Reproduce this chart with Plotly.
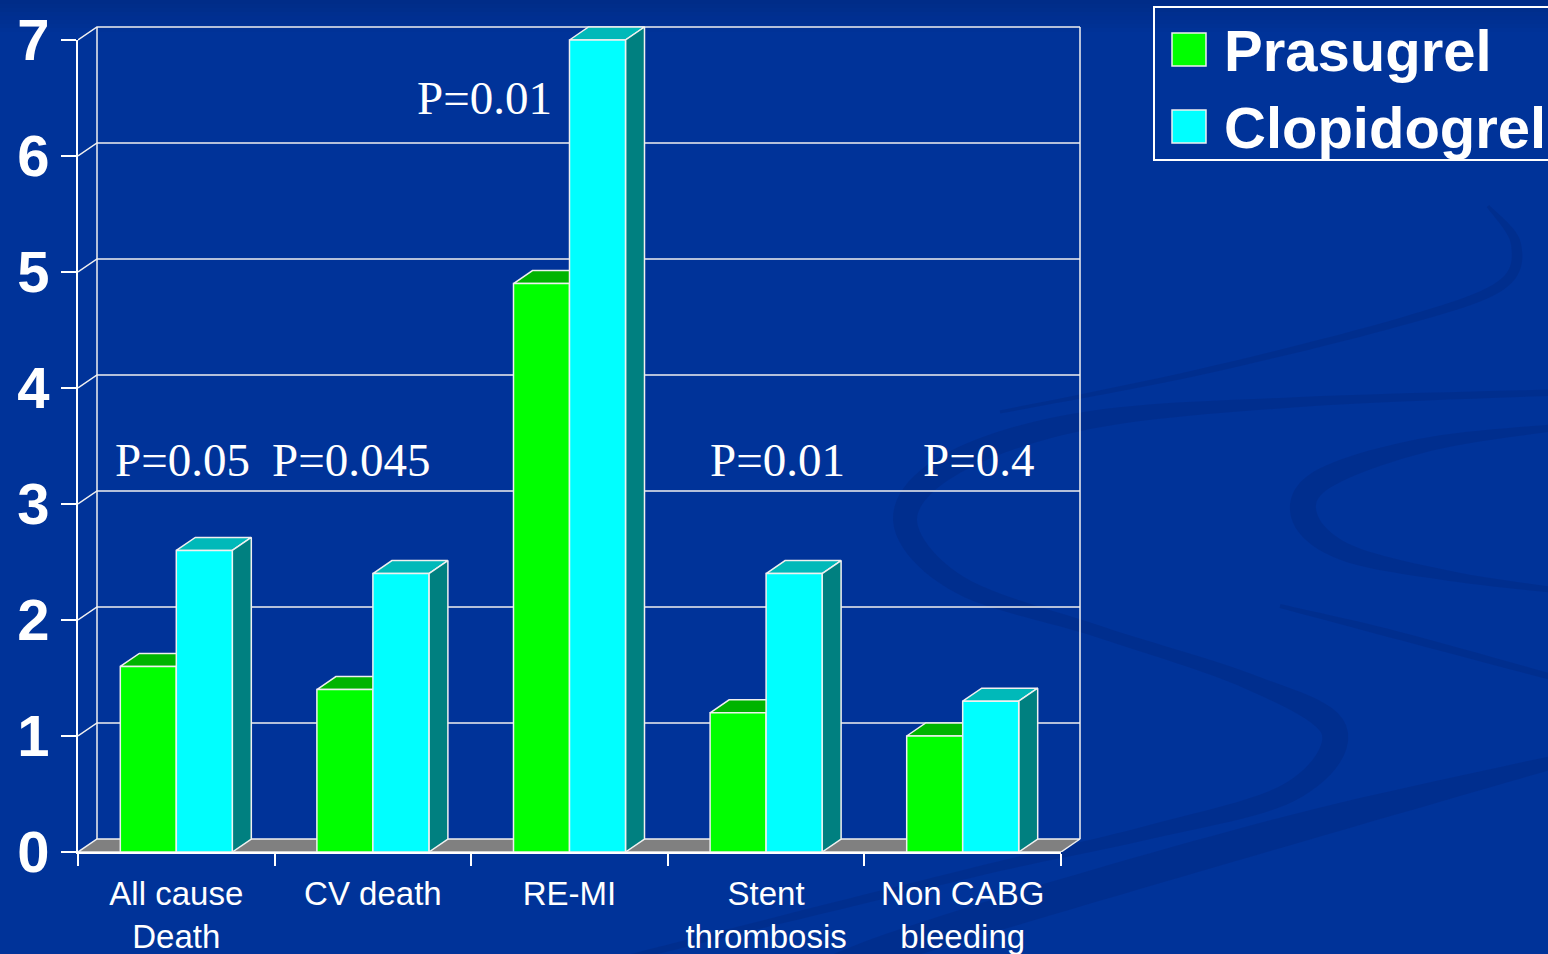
import numpy as np
import plotly.graph_objects as go

# ---- data -------------------------------------------------------------
categories = ["All cause<br>Death", "CV death", "RE-MI", "Stent<br>thrombosis", "Non CABG<br>bleeding"]
prasugrel = [1.6, 1.4, 4.9, 1.2, 1.0]
clopidogrel = [2.6, 2.4, 7.0, 2.4, 1.3]
series_names = ["Prasugrel", "Clopidogrel"]
y_ticks = [0, 1, 2, 3, 4, 5, 6, 7]
p_texts = ["P=0.05", "P=0.045", "P=0.01", "P=0.01", "P=0.4"]

# ---- geometry (pixel layout of the frame) -------------------------------
W_PX, H_PX = 1548, 954
L, B = 78, 852                 # front-left corner of the plot frame
CAT_PX, VAL_PX = 196.6, 116.0  # pixels per category / per unit
DEPTH_X, DEPTH_Y = 19, 13      # 3-D depth offset in pixels
PAD = 3
n = len(categories)
ymax = max(y_ticks)

dx = DEPTH_X / CAT_PX
dy = DEPTH_Y / VAL_PX
padx = PAD / CAT_PX
pady = PAD / VAL_PX
x_lo, x_hi = -0.5, n - 0.5
plot_w = (n + dx + padx) * CAT_PX
plot_h = (ymax + dy + pady) * VAL_PX
R = W_PX - L - plot_w
T = B - plot_h
bar_w = 56 / CAT_PX

# positions of the p-value labels (data coordinates)
p_x = [0.034, 0.889, 1.568, 3.056, 4.080]
p_y = [3.38, 3.38, 6.50, 3.38, 3.38]

BG = "#003399"
GREEN_FRONT, GREEN_TOP, GREEN_SIDE = "#00ff00", "#00b400", "#008000"
CYAN_FRONT, CYAN_TOP, CYAN_SIDE = "#00ffff", "#00b9b9", "#008080"
EDGE = "#f0f0f0"
SANS = "Liberation Sans, Arial, sans-serif"


def px2paper(x, y):
    return (x - L) / plot_w, (B - y) / plot_h


def band_path(pts):
    """Smooth ribbon (centerline with varying width) as an SVG path in paper units."""
    pts = np.array(pts, dtype=float)
    P = np.vstack([pts[0], pts, pts[-1]])
    curve = []
    for k in range(1, len(P) - 2):
        p0, p1, p2, p3 = P[k - 1], P[k], P[k + 1], P[k + 2]
        for t in np.linspace(0, 1, 12, endpoint=False):
            t2, t3 = t * t, t * t * t
            c = 0.5 * ((2 * p1) + (-p0 + p2) * t + (2 * p0 - 5 * p1 + 4 * p2 - p3) * t2
                       + (-p0 + 3 * p1 - 3 * p2 + p3) * t3)
            curve.append(c)
    curve.append(pts[-1])
    curve = np.array(curve)
    xy, w = curve[:, :2], curve[:, 2]
    tang = np.gradient(xy, axis=0)
    tang /= np.linalg.norm(tang, axis=1, keepdims=True) + 1e-9
    norm = np.stack([-tang[:, 1], tang[:, 0]], axis=1)
    left = xy + norm * (w[:, None] / 2)
    right = xy - norm * (w[:, None] / 2)
    poly = np.vstack([left, right[::-1]])
    coords = [px2paper(x, y) for x, y in poly]
    return "M " + " L ".join(f"{a:.5f},{b:.5f}" for a, b in coords) + " Z"


fig = go.Figure()

# ---- floor and back wall ------------------------------------------------
fx = [x_lo, x_lo + dx, x_hi + dx, x_hi, x_lo]
fy = [0, dy, dy, 0, 0]
fig.add_trace(go.Scatter(x=fx, y=fy, fill="toself", fillcolor="#808080", mode="lines",
                         line=dict(color=EDGE, width=1.5), hoverinfo="skip", showlegend=False))

gx, gy = [], []
for v in y_ticks[1:]:
    gx += [x_lo, x_lo + dx, x_hi + dx, None]
    gy += [v, v + dy, v + dy, None]
gx += [x_lo + dx, x_lo + dx, None, x_hi + dx, x_hi + dx, None]
gy += [dy, ymax + dy, None, dy, ymax + dy, None]
fig.add_trace(go.Scatter(x=gx, y=gy, mode="lines", line=dict(color=EDGE, width=1.5),
                         hoverinfo="skip", showlegend=False))


# ---- 3-D bars ----------------------------------------------------------
def faces(values, offset):
    top_x, top_y, side_x, side_y, front_x, front_y = [], [], [], [], [], []
    for i, v in enumerate(values):
        x0 = i + offset
        x1 = x0 + bar_w
        top_x += [x0, x0 + dx, x1 + dx, x1, x0, None]
        top_y += [v, v + dy, v + dy, v, v, None]
        side_x += [x1, x1 + dx, x1 + dx, x1, x1, None]
        side_y += [0, dy, v + dy, v, 0, None]
        front_x += [x0, x1, x1, x0, x0, None]
        front_y += [0, 0, v, v, 0, None]
    return (top_x, top_y), (side_x, side_y), (front_x, front_y)


series = [
    (series_names[0], prasugrel, -bar_w, (GREEN_TOP, GREEN_SIDE, GREEN_FRONT)),
    (series_names[1], clopidogrel, 0.0, (CYAN_TOP, CYAN_SIDE, CYAN_FRONT)),
]
for name, vals, off, cols in series:
    for (xs, ys), col, is_front in zip(faces(vals, off), cols, (False, False, True)):
        fig.add_trace(go.Scatter(
            x=xs, y=ys, fill="toself", fillcolor=col, mode="lines",
            line=dict(color=EDGE, width=1.5), name=name, showlegend=False,
            hoverinfo="skip" if not is_front else None,
            hoveron="fills" if is_front else None,
        ))

# ---- p-value labels ------------------------------------------------------
for txt, xa, ya in zip(p_texts, p_x, p_y):
    fig.add_annotation(x=xa, y=ya, xref="x", yref="y", text=txt, showarrow=False,
                       xanchor="center", yanchor="middle",
                       font=dict(family="Liberation Serif, Times New Roman, serif",
                                 size=47, color="white"))

# ---- background swirls ---------------------------------------------------
swirl_col = "rgba(0,36,120,0.32)"
bands = [
    [(1570, 392, 6), (1300, 402, 10), (1090, 420, 18), (955, 462, 24), (905, 520, 24),
     (960, 585, 18), (1100, 632, 12), (1250, 682, 16), (1334, 730, 26), (1290, 792, 20),
     (1150, 832, 14), (1000, 866, 10), (800, 915, 8), (600, 965, 6)],
    [(1570, 426, 6), (1430, 444, 14), (1325, 478, 22), (1304, 515, 26), (1345, 552, 18),
     (1450, 576, 10), (1570, 592, 5)],
    [(1280, 606, 4), (1400, 636, 8), (1570, 682, 6)],
    [(1570, 758, 12), (1320, 822, 28), (1080, 890, 32), (900, 945, 30), (820, 975, 28)],
    [(1488, 206, 3), (1516, 244, 10), (1500, 286, 10), (1400, 322, 8), (1200, 372, 6), (1000, 412, 3)],
]
shapes = []
for b in bands:
    shapes.append(dict(type="path", path=band_path(b), xref="paper", yref="paper",
                       fillcolor=swirl_col, line=dict(width=0), layer="below"))

# soft darker fade across the very top of the page
for k in range(8):
    y0, y1 = px2paper(0, k * 4)[1], px2paper(0, k * 4 + 4)[1]
    x0p, x1p = px2paper(0, 0)[0], px2paper(W_PX, 0)[0]
    shapes.append(dict(type="rect", xref="paper", yref="paper", x0=x0p, x1=x1p, y0=y1, y1=y0,
                       fillcolor=f"rgba(0,30,100,{0.3 * (1 - k / 8):.3f})", line=dict(width=0),
                       layer="below"))

# ---- legend box ----------------------------------------------------------
lx0, ly0 = px2paper(1154, 7)
lx1, ly1 = px2paper(1560, 160)
shapes.append(dict(type="rect", xref="paper", yref="paper", x0=lx0, x1=lx1, y0=ly1, y1=ly0,
                   line=dict(color="white", width=2), fillcolor="rgba(0,0,0,0)"))
for (name, _, _, cols), yc in zip(series, (49, 126)):
    sx0, sy0 = px2paper(1172, yc - 16)
    sx1, sy1 = px2paper(1206, yc + 17)
    shapes.append(dict(type="rect", xref="paper", yref="paper", x0=sx0, x1=sx1, y0=sy1, y1=sy0,
                       fillcolor=cols[2], line=dict(color=EDGE, width=1.5)))
    tx, ty = px2paper(1222, yc + 2)
    fig.add_annotation(x=tx, y=ty, xref="paper", yref="paper", text=name,
                       showarrow=False, xanchor="left", yanchor="middle",
                       font=dict(family=SANS, size=58, color="white", weight="bold"))

# ---- axes ----------------------------------------------------------------
front_w = n * CAT_PX / plot_w
front_h = ymax * VAL_PX / plot_h
fig.update_layout(
    template="none",
    width=W_PX, height=H_PX,
    margin=dict(l=L, r=R, t=T, b=H_PX - B, pad=0, autoexpand=False),
    paper_bgcolor=BG, plot_bgcolor="rgba(0,0,0,0)",
    shapes=shapes,
    showlegend=False,
    xaxis=dict(range=[x_lo, x_hi + dx + padx], visible=False, domain=[0, 1], automargin=False),
    yaxis=dict(range=[0, ymax + dy + pady], visible=False, domain=[0, 1], automargin=False),
    xaxis2=dict(range=[x_lo, x_hi], domain=[0, front_w], anchor="y2", automargin=False,
                tickmode="array", tickvals=list(range(n)), ticktext=categories,
                ticks="", showgrid=False, zeroline=False,
                showline=True, linecolor="white", linewidth=2,
                tickfont=dict(family=SANS, size=33, color="white"),
                ticklabelstandoff=11,
                minor=dict(tickmode="array", tickvals=[i - 0.5 for i in range(n + 1)],
                           ticks="outside", ticklen=12, tickcolor="white", tickwidth=2,
                           showgrid=False)),
    yaxis2=dict(range=[0, ymax], domain=[0, front_h], anchor="x2", automargin=False,
                tickmode="array", tickvals=y_ticks, ticks="outside", ticklen=15,
                tickcolor="white", tickwidth=2, showgrid=False, zeroline=False,
                showline=True, linecolor="white", linewidth=2,
                tickfont=dict(family=SANS, size=58, color="white", weight="bold")),
)
# an empty trace so the front frame subplot is created
fig.add_trace(go.Scatter(x=[], y=[], xaxis="x2", yaxis="y2", showlegend=False, hoverinfo="skip"))

fig.write_html("out.html")
